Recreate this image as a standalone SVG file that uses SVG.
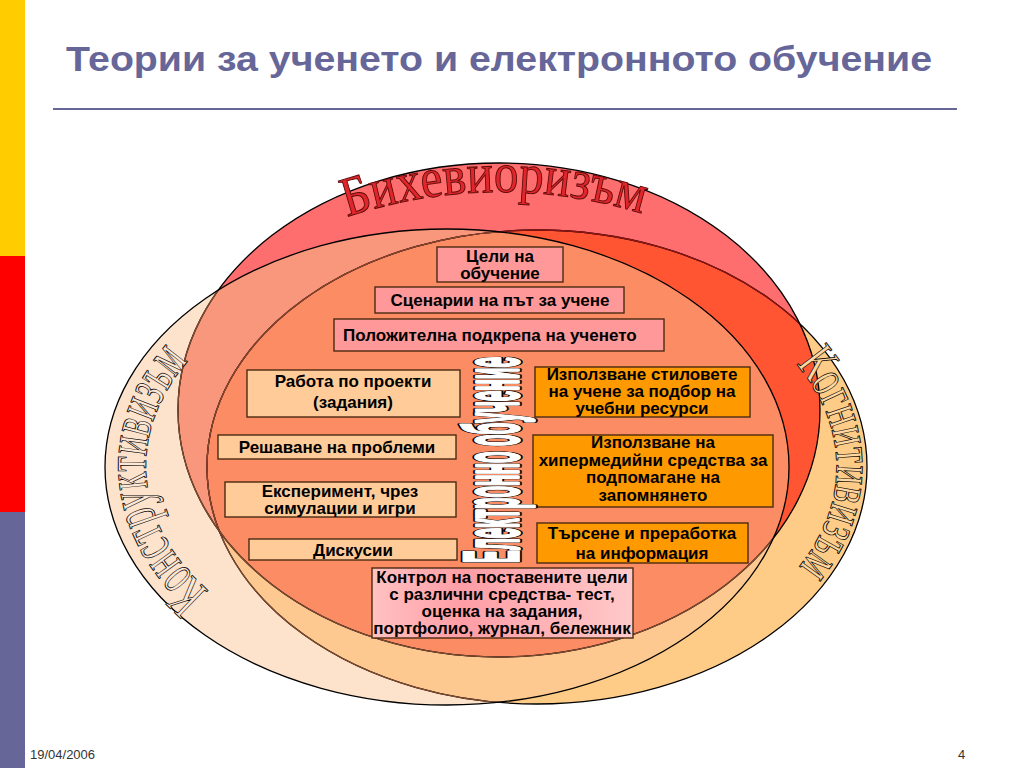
<svg xmlns="http://www.w3.org/2000/svg" width="1024" height="768" viewBox="0 0 1024 768">
<defs>
<clipPath id="cL"><ellipse cx="447" cy="467" rx="342" ry="238"/></clipPath>
<clipPath id="cR"><ellipse cx="537" cy="467" rx="330" ry="237"/></clipPath>
<clipPath id="cB"><ellipse cx="499" cy="410" rx="321" ry="247"/></clipPath>
<path id="pB" d="M 347,217 Q 500,167 653,217"/>
<path id="pL" d="M 209,591 A 306 206 0 0 1 185,365"/>
<path id="pR" d="M 796,364 A 299 205 0 0 1 796,570"/>
<linearGradient id="gK" x1="0" y1="0" x2="1" y2="0">
<stop offset="0" stop-color="#FFC2C2"/><stop offset="0.35" stop-color="#FF9DA6"/><stop offset="1" stop-color="#FFCACA"/>
</linearGradient>
</defs>
<style>
.box{stroke:#4A2A10;stroke-width:1.4}
.pink{fill:#FF9999}
.peach{fill:#FFCC99}
.orange{fill:#FF9900}
.t{font-family:"Liberation Sans",Arial,sans-serif;font-weight:bold;font-size:17px;fill:#000;text-anchor:middle}
.wa{font-family:"Liberation Serif","Times New Roman",serif}
.edge{fill:none;stroke-width:1.3}
</style>
<rect width="1024" height="768" fill="#FFFFFF"/>
<g id="sidebar">
<rect x="0" y="0" width="25" height="256" fill="#FFCC00"/>
<rect x="0" y="256" width="25" height="256" fill="#FF0000"/>
<rect x="0" y="512" width="25" height="256" fill="#666699"/>
</g>
<g id="title">
<text x="66" y="71" font-family="Liberation Sans, Arial, sans-serif" font-weight="bold" font-size="35" fill="#666699" textLength="866" lengthAdjust="spacingAndGlyphs">Теории за ученето и електронното обучение</text>
<line x1="53" y1="109" x2="957" y2="109" stroke="#666699" stroke-width="2"/>
</g>
<g id="venn">
<ellipse cx="447" cy="467" rx="342" ry="238" fill="#FDE3CC"/>
<ellipse cx="537" cy="467" rx="330" ry="237" fill="#FFCC88"/>
<g clip-path="url(#cL)"><ellipse cx="537" cy="467" rx="330" ry="237" fill="#FDC990"/></g>
<ellipse cx="499" cy="410" rx="321" ry="247" fill="#FF6E6E"/>
<g clip-path="url(#cB)">
<ellipse cx="447" cy="467" rx="342" ry="238" fill="#F9977C"/>
<ellipse cx="537" cy="467" rx="330" ry="237" fill="#FF5533"/>
<g clip-path="url(#cL)"><ellipse cx="537" cy="467" rx="330" ry="237" fill="#FC8C64"/></g>
</g>
<ellipse class="edge" cx="537" cy="467" rx="330" ry="237" stroke="#000"/>
<g clip-path="url(#cB)"><ellipse class="edge" cx="537" cy="467" rx="330" ry="237" stroke="#8E1414"/></g>
<g clip-path="url(#cL)"><ellipse class="edge" cx="537" cy="467" rx="330" ry="237" stroke="#7E4A30"/></g>
<ellipse class="edge" cx="499" cy="410" rx="321" ry="247" stroke="#000"/>
<g clip-path="url(#cL)"><ellipse class="edge" cx="499" cy="410" rx="321" ry="247" stroke="#7E4A30"/></g>
<ellipse class="edge" cx="447" cy="467" rx="342" ry="238" stroke="#000"/>
</g>
<g id="behaviorism">
<text class="wa" font-size="56" fill="#E0262B" stroke="#5C0A0A" stroke-width="1"><textPath href="#pB" textLength="300" lengthAdjust="spacingAndGlyphs">Бихевиоризъм</textPath></text>
</g>
<g id="constructivism">
<text class="wa" font-size="60" fill="#FDE8D6" stroke="#000" stroke-width="0.9"><textPath href="#pL" textLength="260" lengthAdjust="spacingAndGlyphs">Конструктивизъм</textPath></text>
</g>
<g id="cognitivism">
<text class="wa" font-size="56" fill="#FFD7A0" stroke="#000" stroke-width="0.9"><textPath href="#pR" textLength="222" lengthAdjust="spacingAndGlyphs">Когнитивизъм</textPath></text>
</g>
<g id="box-celi">
<rect class="box pink" x="437" y="247" width="126" height="35"/>
<text class="t" x="500" y="262">Цели на</text>
<text class="t" x="500" y="279">обучение</text>
</g>
<g id="box-scenarii">
<rect class="box pink" x="375" y="287" width="249" height="26"/>
<text class="t" x="500" y="306">Сценарии на път за учене</text>
</g>
<g id="box-podkrepa">
<rect class="box pink" x="334" y="319" width="330" height="32"/>
<text class="t" x="343" y="341" style="text-anchor:start">Положителна подкрепа на ученето</text>
</g>
<g id="box-proekti">
<rect class="box peach" x="247" y="370" width="213" height="47"/>
<text class="t" x="353" y="387">Работа по проекти</text>
<text class="t" x="353" y="408">(задания)</text>
</g>
<g id="box-problemi">
<rect class="box peach" x="218" y="435" width="238" height="24"/>
<text class="t" x="337" y="453">Решаване на проблеми</text>
</g>
<g id="box-eksperiment">
<rect class="box peach" x="225" y="482" width="231" height="35"/>
<text class="t" x="340" y="497">Експеримент, чрез</text>
<text class="t" x="340" y="514">симулации и игри</text>
</g>
<g id="box-diskusii">
<rect class="box peach" x="249" y="539" width="208" height="21"/>
<text class="t" x="353" y="556">Дискусии</text>
</g>
<g id="box-stilove">
<rect class="box orange" x="535" y="367" width="215" height="50"/>
<text class="t" x="642" y="380">Използване стиловете</text>
<text class="t" x="642" y="397">на учене за подбор на</text>
<text class="t" x="642" y="414">учебни ресурси</text>
</g>
<g id="box-hipermedia">
<rect class="box orange" x="533" y="435" width="240" height="72"/>
<text class="t" x="653" y="448">Използване на</text>
<text class="t" x="653" y="466">хипермедийни средства за</text>
<text class="t" x="653" y="483">подпомагане на</text>
<text class="t" x="653" y="501">запомнянето</text>
</g>
<g id="box-tarsene">
<rect class="box orange" x="537" y="523" width="211" height="40"/>
<text class="t" x="642" y="539">Търсене и преработка</text>
<text class="t" x="642" y="559">на информация</text>
</g>
<g id="box-kontrol">
<rect class="box" fill="url(#gK)" x="372" y="568" width="261" height="70"/>
<text class="t" x="502" y="583">Контрол на поставените цели</text>
<text class="t" x="502" y="600">с различни средства- тест,</text>
<text class="t" x="502" y="617">оценка на задания,</text>
<text class="t" x="502" y="634">портфолио, журнал, бележник</text>
</g>
<g id="elearning" font-family="Liberation Sans, Arial, sans-serif" font-weight="bold" font-size="44">
<text transform="translate(518,563) rotate(-90) scale(1,1.75)" x="0" y="0" fill="#000" stroke="#000" stroke-width="6" stroke-linejoin="round" vector-effect="non-scaling-stroke" textLength="206" lengthAdjust="spacingAndGlyphs">Електронно обучение</text>
<text transform="translate(518,563) rotate(-90) scale(1,1.75)" x="0" y="0" fill="#FFFFFF" stroke="#FFFFFF" stroke-width="3" stroke-linejoin="round" vector-effect="non-scaling-stroke" textLength="206" lengthAdjust="spacingAndGlyphs">Електронно обучение</text>
</g>
<g id="footer">
<text x="30" y="759" font-family="Liberation Sans, Arial, sans-serif" font-size="13" fill="#333333">19/04/2006</text>
<text x="958" y="759" font-family="Liberation Sans, Arial, sans-serif" font-size="13" fill="#333333">4</text>
</g>
</svg>
